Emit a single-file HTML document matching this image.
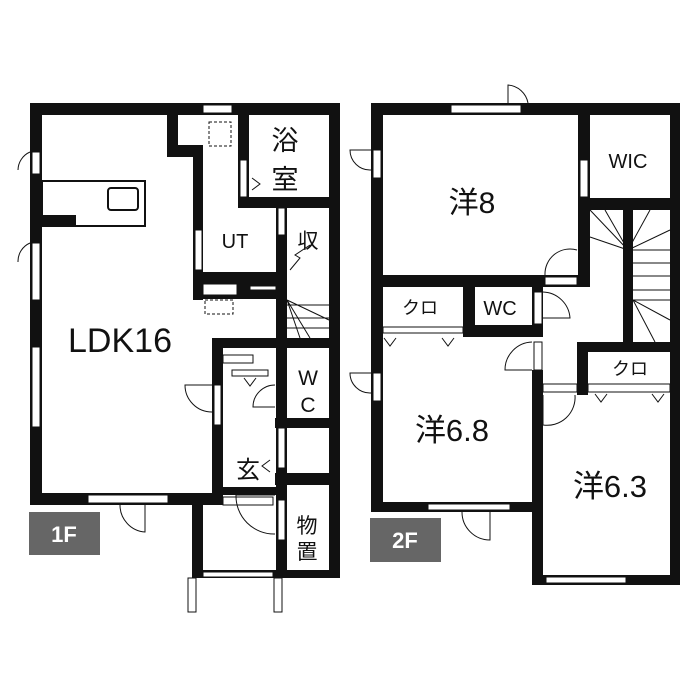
<!DOCTYPE html>
<html><head><meta charset="utf-8"><style>
html,body{margin:0;padding:0;background:#fff;width:700px;height:700px;overflow:hidden}
svg{display:block}
text{font-family:"Liberation Sans","Noto Sans CJK JP",sans-serif;fill:#111}
</style></head><body>
<svg width="700" height="700" viewBox="0 0 700 700">
<g fill="#111">
<rect x="30" y="103" width="310" height="12"/>
<rect x="30" y="103" width="12" height="402"/>
<rect x="329" y="103" width="11" height="475"/>
<rect x="30" y="493" width="193" height="12"/>
<rect x="192" y="493" width="11" height="85"/>
<rect x="192" y="570" width="148" height="8"/>
<rect x="212" y="338" width="11" height="167"/>
<rect x="167" y="115" width="11" height="42"/>
<rect x="167" y="145" width="36" height="12"/>
<rect x="193" y="145" width="10" height="155"/>
<rect x="238" y="115" width="11" height="93"/>
<rect x="238" y="197" width="102" height="11"/>
<rect x="276" y="208" width="11" height="370"/>
<rect x="193" y="272" width="94" height="27"/>
<rect x="212" y="338" width="128" height="10"/>
<rect x="275" y="418" width="65" height="10"/>
<rect x="275" y="473" width="65" height="12"/>
<rect x="212" y="487" width="64" height="8"/>
<rect x="371" y="103" width="309" height="12"/>
<rect x="371" y="103" width="12" height="409"/>
<rect x="670" y="103" width="10" height="482"/>
<rect x="371" y="502" width="172" height="10"/>
<rect x="532" y="370" width="11" height="215"/>
<rect x="532" y="575" width="148" height="10"/>
<rect x="578" y="103" width="12" height="182"/>
<rect x="578" y="198" width="102" height="12"/>
<rect x="371" y="275" width="219" height="12"/>
<rect x="463" y="275" width="12" height="62"/>
<rect x="463" y="325" width="80" height="12"/>
<rect x="532" y="287" width="11" height="50"/>
<rect x="623" y="210" width="10" height="132"/>
<rect x="578" y="342" width="102" height="10"/>
<rect x="577" y="342" width="11" height="53"/>
</g>
<g fill="#fff" stroke="#111" stroke-width="1">
<rect x="203" y="105" width="29" height="8"/>
<rect x="32" y="152" width="8" height="22"/>
<rect x="32" y="243" width="8" height="57"/>
<rect x="32" y="347" width="8" height="80"/>
<rect x="88" y="495" width="80" height="8"/>
<rect x="240" y="160" width="7" height="37"/>
<rect x="195" y="230" width="7" height="40"/>
<rect x="203" y="284" width="34" height="11"/>
<rect x="250" y="286" width="26" height="4"/>
<rect x="278" y="208" width="7" height="27"/>
<rect x="214" y="385" width="7" height="40"/>
<rect x="278" y="428" width="7" height="40"/>
<rect x="203" y="572" width="70" height="5"/>
<rect x="223" y="355" width="30" height="8"/>
<rect x="232" y="370" width="36" height="6"/>
<rect x="223" y="497" width="50" height="8"/>
<rect x="278" y="500" width="7" height="40"/>
<rect x="42" y="181" width="103" height="45" stroke-width="2"/>
<rect x="108" y="188" width="30" height="22" rx="3" stroke-width="2"/>
<rect x="451" y="105" width="70" height="8"/>
<rect x="373" y="150" width="8" height="28"/>
<rect x="373" y="373" width="8" height="28"/>
<rect x="580" y="160" width="8" height="37"/>
<rect x="545" y="277" width="32" height="8"/>
<rect x="534" y="292" width="8" height="32"/>
<rect x="534" y="342" width="8" height="28"/>
<rect x="428" y="504" width="82" height="6"/>
<rect x="546" y="577" width="80" height="6"/>
<rect x="383" y="327" width="80" height="6"/>
<rect x="588" y="384" width="82" height="8"/>
<rect x="543" y="384" width="34" height="8"/>
</g>
<rect x="42" y="215" width="34" height="12" fill="#111"/>
<g fill="none" stroke="#111" stroke-width="1">
<rect x="188" y="578" width="8" height="34" fill="#fff"/>
<rect x="274" y="578" width="8" height="34" fill="#fff"/>
<path d="M30 152 A20 20 0 0 0 18 170"/>
<path d="M30 243 A20 20 0 0 0 18 262"/>
<path d="M145 505 V532 A27 27 0 0 1 120 505"/>
<path d="M212 385 H185 A27 27 0 0 0 212 412"/>
<path d="M275 385 A22 22 0 0 0 253 407 H275"/>
<path d="M275 495 H236 A38 38 0 0 0 275 534"/>
<path d="M371 150 H350 A20 20 0 0 0 371 170"/>
<path d="M371 373 H350 A20 20 0 0 0 371 393"/>
<path d="M508 103 V85 A22 22 0 0 1 528 103"/>
<path d="M577 250 A25 25 0 0 0 545 275"/>
<path d="M543 292 A28 28 0 0 1 570 318 H543"/>
<path d="M532 342 A28 28 0 0 0 505 370 H532"/>
<path d="M543 395 V425 A28 28 0 0 0 575 395"/>
<path d="M490 512 V540 A28 28 0 0 1 462 512"/>
<rect x="209" y="122" width="22" height="24" stroke-dasharray="3,2"/>
<rect x="205" y="300" width="28" height="14" stroke-dasharray="3,2"/>
<path d="M287 305 H329 M287 318 H329 M287 328 H329 M287 300 L329 320 M287 300 L310 338 M287 300 L300 338"/>
<path d="M290 270 L300 258 L295 255 L310 245"/>
<path d="M633 250 H670 M633 263 H670 M633 276 H670 M633 290 H670 M633 300 H670 M633 300 L670 320 M633 300 L655 342 M590 210 L628 250 M605 210 L628 250 M628 210 V250 M650 210 L628 250 M670 230 L628 250 M590 237 L628 250"/>
<path d="M252 178 L260 184 L252 190"/>
<path d="M244 378 L250 386 L256 378"/>
<path d="M270 460 L262 466 L270 472"/>
<path d="M384 338 L390 346 L396 338 M442 338 L448 346 L454 338"/>
<path d="M595 394 L601 402 L607 394 M652 394 L658 402 L664 394"/>
</g>
<text x="120" y="352" font-size="34" text-anchor="middle">LDK16</text>
<text x="285" y="150" font-size="27" text-anchor="middle">浴</text>
<text x="285" y="189" font-size="27" text-anchor="middle">室</text>
<text x="235" y="248" font-size="20" text-anchor="middle">UT</text>
<text x="308" y="248" font-size="21" text-anchor="middle">収</text>
<text x="308" y="385" font-size="21" text-anchor="middle">W</text>
<text x="308" y="412" font-size="21" text-anchor="middle">C</text>
<text x="248" y="478" font-size="24" text-anchor="middle">玄</text>
<text x="307" y="533" font-size="21" text-anchor="middle">物</text>
<text x="307" y="559" font-size="21" text-anchor="middle">置</text>
<text x="472" y="213" font-size="30" text-anchor="middle">洋8</text>
<text x="628" y="168" font-size="20" text-anchor="middle">WIC</text>
<text x="420" y="314" font-size="18" text-anchor="middle">クロ</text>
<text x="500" y="315" font-size="20" text-anchor="middle">WC</text>
<text x="630" y="375" font-size="18" text-anchor="middle">クロ</text>
<text x="452" y="441" font-size="31" text-anchor="middle">洋6.8</text>
<text x="610" y="497" font-size="31" text-anchor="middle">洋6.3</text>
<rect x="29" y="512" width="71" height="43" fill="#666"/>
<text x="64" y="542" font-size="22" font-weight="bold" text-anchor="middle" style="fill:#fff">1F</text>
<rect x="370" y="518" width="71" height="44" fill="#666"/>
<text x="405" y="548" font-size="22" font-weight="bold" text-anchor="middle" style="fill:#fff">2F</text>
</svg>
</body></html>
